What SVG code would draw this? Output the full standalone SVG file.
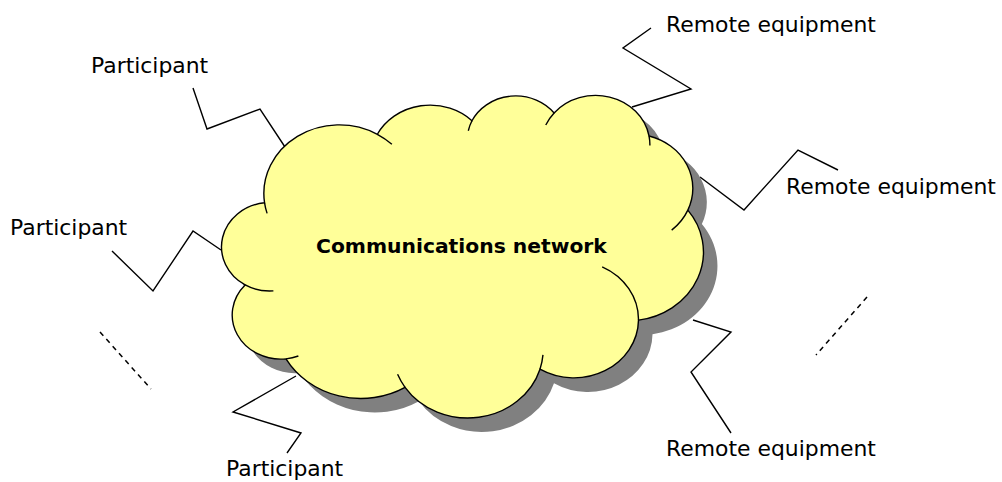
<svg xmlns="http://www.w3.org/2000/svg" xmlns:xlink="http://www.w3.org/1999/xlink" width="1002" height="482" viewBox="0 0 1002 482">
<style>
.lbl{font-family:"DejaVu Sans","Liberation Sans",sans-serif;font-size:21.9px;fill:#000}
.ttl{font-family:"DejaVu Sans","Liberation Sans",sans-serif;font-size:20.3px;font-weight:bold;fill:#000}
.zig{fill:none;stroke:#000;stroke-width:1.4;stroke-linejoin:miter}
.dash{fill:none;stroke:#000;stroke-width:1.5;stroke-dasharray:5 4.5}
.ol{stroke:#000;stroke-width:1.4;vector-effect:non-scaling-stroke}
</style>
<defs>
<path id="cloudPath" d="M3900,14370 A6753,9190 0 0 1 14000,5192 A5333,7267 0 0 1 22470,3380 A4365,5945 0 0 1 29825,2340 A4857,6595 0 0 1 38324,5426 A5333,7273 0 0 1 41798,15354 A6775,9220 0 0 1 37381,30090 A5785,7867 0 0 1 28560,36660 A6752,9215 0 0 1 16478,39090 A7720,10543 0 0 1 5819,35280 A4360,5918 0 0 1 2160,25380 A4345,5945 0 0 1 3900,14370 Z"/>
</defs>
<g id="connectors">
<polyline class="zig" points="193,88 207,129 260,109 285,147"/>
<polyline class="zig" points="112,251 153,291 193,231 221,250"/>
<polyline class="zig" points="287,453 301,433 233,412 296,376"/>
<polyline class="zig" points="651,28 623,48 691,89 632,107"/>
<polyline class="zig" points="838,170 798,150 744,210 700,177"/>
<polyline class="zig" points="731,433 691,372 731,332 693,320"/>
<line class="dash" x1="100" y1="332" x2="151" y2="389"/>
<line class="dash" x1="867" y1="297" x2="816" y2="355"/>
</g>
<g id="cloud">
<g transform="translate(235,109.5) scale(0.011169,0.0074653)">
<use xlink:href="#cloudPath" href="#cloudPath" fill="#808080"/>
</g>
<g transform="translate(221,95.5) scale(0.011169,0.0074653)">
<path class="ol" fill="#FFFF99" d="M3900,14370 A6753,9190 0 0 1 14000,5192 A5333,7267 0 0 1 22470,3380 A4365,5945 0 0 1 29825,2340 A4857,6595 0 0 1 38324,5426 A5333,7273 0 0 1 41798,15354 A6775,9220 0 0 1 37381,30090 A5785,7867 0 0 1 28560,36660 A6752,9215 0 0 1 16478,39090 A7720,10543 0 0 1 5819,35280 A4360,5918 0 0 1 2160,25380 A4345,5945 0 0 1 3900,14370 Z"/>
<path class="ol" fill="none" d="M4693,26177 A4345,5945 0 0 1 2160,25380 M6928,34899 A4360,5918 0 0 1 5819,35280 M16478,39090 A6752,9215 0 0 1 15810,37350 M28827,34751 A6752,9215 0 0 1 28560,36660 M34129,22954 A5785,7867 0 0 1 37381,30090 M41798,15354 A5333,7273 0 0 1 40350,18030 M38324,5426 A4857,6595 0 0 1 38400,6690 M29078,3952 A4857,6595 0 0 1 29825,2340 M22141,4720 A4365,5945 0 0 1 22470,3380 M14000,5192 A6753,9190 0 0 1 15299,6540 M4127,15789 A6753,9190 0 0 1 3900,14370"/>
</g>
<text class="ttl" x="316" y="253">Communications network</text>
</g>
<g id="participant-top"><text class="lbl" x="91" y="73">Participant</text></g>
<g id="participant-left"><text class="lbl" x="10" y="235">Participant</text></g>
<g id="participant-bottom"><text class="lbl" x="226" y="476">Participant</text></g>
<g id="remote-top"><text class="lbl" x="666" y="32">Remote equipment</text></g>
<g id="remote-right"><text class="lbl" x="786" y="194">Remote equipment</text></g>
<g id="remote-bottom"><text class="lbl" x="666" y="456">Remote equipment</text></g>
</svg>
